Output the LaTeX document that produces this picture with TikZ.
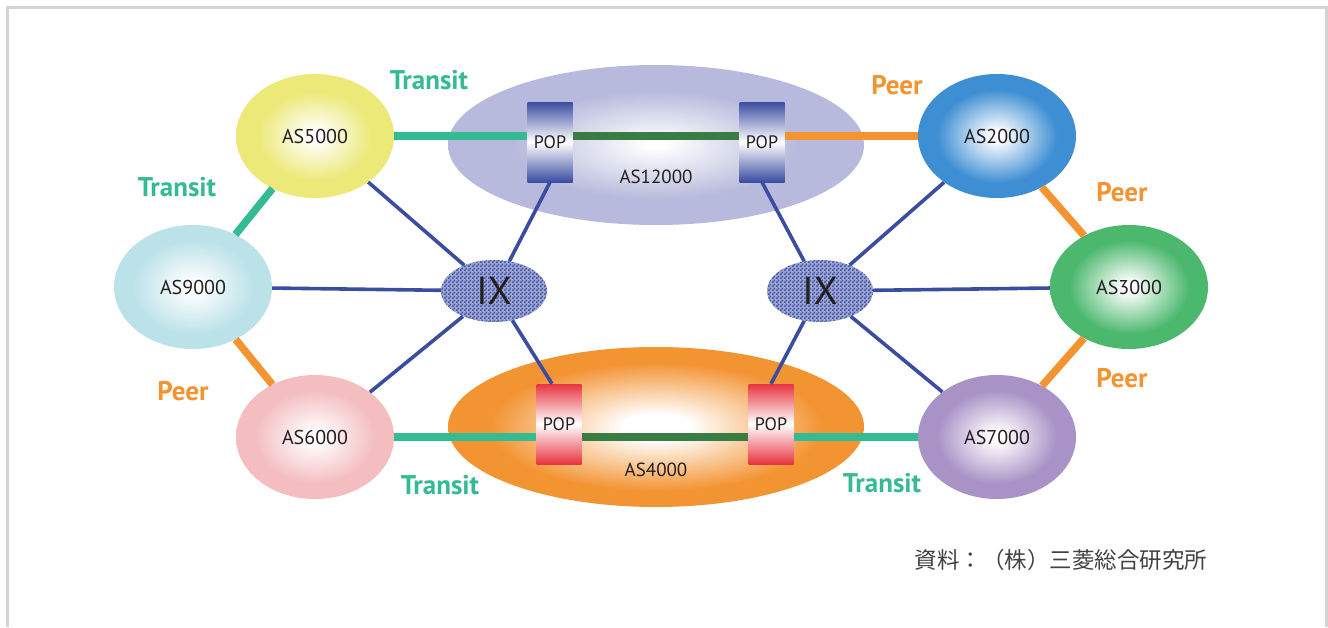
\documentclass[tikz,border=0pt]{standalone}
\usepackage{fontspec}
\setmainfont{PT Sans}
\newfontfamily\jpfont{Noto Sans CJK JP}
\usetikzlibrary{shapes.geometric,patterns}

% palette
\definecolor{transit}{HTML}{35BB93}
\definecolor{peer}{HTML}{F39431}
\definecolor{backbone}{HTML}{3A7D44}
\definecolor{ixline}{HTML}{3A4DA0}
\definecolor{ixfill}{HTML}{3F51A5}
\definecolor{txt}{HTML}{231F20}
\definecolor{frame}{HTML}{D4D4D4}
\definecolor{cfive}{HTML}{ECE978}
\definecolor{cnine}{HTML}{BCE2E9}
\definecolor{csix}{HTML}{F4BDC0}
\definecolor{ctwo}{HTML}{3D8ED3}
\definecolor{cthree}{HTML}{4BB86E}
\definecolor{cseven}{HTML}{A892C6}
\definecolor{ctwelve}{HTML}{B7BADC}
\definecolor{cfour}{HTML}{F39433}
\definecolor{popblue}{HTML}{3B4CA2}
\definecolor{popred}{HTML}{E8343F}

% soft radial glows, white at the centre (the node outline sits at 25bp)
\pgfdeclareradialshading{glowfive}{\pgfpoint{0bp}{0bp}}{color(0bp)=(white);color(2bp)=(white);color(18bp)=(cfive);color(50bp)=(cfive)}
\pgfdeclareradialshading{glownine}{\pgfpoint{0bp}{0bp}}{color(0bp)=(white);color(2bp)=(white);color(19bp)=(cnine);color(50bp)=(cnine)}
\pgfdeclareradialshading{glowsix}{\pgfpoint{0bp}{0bp}}{color(0bp)=(white);color(2bp)=(white);color(19bp)=(csix);color(50bp)=(csix)}
\pgfdeclareradialshading{glowtwo}{\pgfpoint{0bp}{0bp}}{color(0bp)=(white);color(2bp)=(white);color(19bp)=(ctwo);color(50bp)=(ctwo)}
\pgfdeclareradialshading{glowthree}{\pgfpoint{0bp}{0bp}}{color(0bp)=(white);color(2bp)=(white);color(19bp)=(cthree);color(50bp)=(cthree)}
\pgfdeclareradialshading{glowseven}{\pgfpoint{0bp}{0bp}}{color(0bp)=(white);color(2bp)=(white);color(19bp)=(cseven);color(50bp)=(cseven)}
\pgfdeclareradialshading{glowtwelve}{\pgfpoint{0bp}{0bp}}{color(0bp)=(white);color(1bp)=(white);color(17bp)=(ctwelve);color(50bp)=(ctwelve)}
\pgfdeclareradialshading{glowfour}{\pgfpoint{0bp}{0bp}}{color(0bp)=(white);color(4bp)=(white);color(20bp)=(cfour);color(50bp)=(cfour)}

% checks for the exchange points
\pgfdeclarepatternformonly{finechecks}{\pgfqpoint{0pt}{0pt}}{\pgfqpoint{4pt}{4pt}}{\pgfqpoint{4pt}{4pt}}{%
  \pgfpathrectangle{\pgfqpoint{0pt}{0pt}}{\pgfqpoint{2pt}{2pt}}%
  \pgfpathrectangle{\pgfqpoint{2pt}{2pt}}{\pgfqpoint{2pt}{2pt}}%
  \pgfusepath{fill}}

\tikzset{
  asnode/.style={ellipse, inner sep=0pt, minimum width=158pt, minimum height=124pt,
    text=txt, font=\fontsize{20}{24}\selectfont},
  bignode/.style={ellipse, inner sep=0pt, minimum width=416pt, minimum height=160pt},
  popbox/.style={rectangle, inner sep=0pt, minimum width=45pt, minimum height=80pt,
    top color=#1, bottom color=#1, middle color=white,
    text=txt, font=\fontsize{18}{22}\selectfont},
  ixnode/.style={ellipse, inner sep=0pt, minimum width=106pt, minimum height=62pt,
    preaction={fill=ixfill!50}, pattern=finechecks, pattern color=ixfill,
    text=txt, font=\fontsize{39}{40}\selectfont},
  transitlink/.style={draw=transit, line width=7.5pt},
  peerlink/.style={draw=peer, line width=7.5pt},
  trunk/.style={draw=backbone, line width=8pt},
  ixlink/.style={draw=ixline, line width=3.6pt},
  tlabel/.style={text=transit, font=\bfseries\fontsize{27}{30}\selectfont},
  plabel/.style={text=peer, font=\bfseries\fontsize{27}{30}\selectfont},
}

\begin{document}
\begin{tikzpicture}[x=1pt, y=-1pt]
\useasboundingbox (0,0) rectangle (1328,627);
\fill[white] (0,0) rectangle (1328,627);
\draw[frame, line width=3.5pt] (7.5,627) -- (7.5,7.5) -- (1326.5,7.5) -- (1326.5,627);

% carrier networks
\node[bignode, shading=glowtwelve] (as12) at (656,145) {};
\node[bignode, shading=glowfour] (as4) at (656,427) {};
\node[text=txt, font=\fontsize{19}{22}\selectfont] (as12lbl) at (656,177) {AS12000};
\node[text=txt, font=\fontsize{19}{22}\selectfont] (as4lbl) at (656,470) {AS4000};

% points of presence
\node[popbox=popblue] (popTL) at (550,142) {POP};
\node[popbox=popblue] (popTR) at (762,142) {POP};
\node[popbox=popred] (popBL) at (559,424) {POP};
\node[popbox=popred] (popBR) at (771,424) {POP};

% exchanges
\node[ixnode] (ixL) at (494,291) {IX};
\node[ixnode] (ixR) at (820,291) {IX};

% autonomous systems
\node[asnode, shading=glowfive] (as5) at (315,136) {AS5000};
\node[asnode, shading=glownine] (as9) at (193,287) {AS9000};
\node[asnode, shading=glowsix] (as6) at (315,437) {AS6000};
\node[asnode, shading=glowtwo] (as2) at (997,136) {AS2000};
\node[asnode, shading=glowthree] (as3) at (1129,287) {AS3000};
\node[asnode, shading=glowseven] (as7) at (997,437) {AS7000};

% backbone trunks inside the carriers
\draw[trunk] (popTL.east |- as5) -- (popTR.west |- as5);
\draw[trunk] (popBL.east |- as6) -- (popBR.west |- as6);

% transit and peering links
\draw[transitlink] (as5) -- (as5 -| popTL.west);
\draw[peerlink] (popTR.east |- as2) -- (as2);
\draw[transitlink] (as6) -- (as6 -| popBL.west);
\draw[transitlink] (popBR.east |- as7) -- (as7);
\draw[transitlink] (as5) -- (as9);
\draw[peerlink] (as9) -- (as6);
\draw[peerlink] (as2) -- (as3);
\draw[peerlink] (as3) -- (as7);

% exchange links
\draw[ixlink] (as5) -- (ixL);
\draw[ixlink] (as9) -- (ixL);
\draw[ixlink] (as6) -- (ixL);
\draw[ixlink] (popTL.south) -- (ixL);
\draw[ixlink] (ixL) -- ([xshift=-7pt]popBL.north);
\draw[ixlink] (ixR) -- (as2);
\draw[ixlink] (ixR) -- (as3);
\draw[ixlink] (ixR) -- (as7);
\draw[ixlink] (popTR.south) -- (ixR);
\draw[ixlink] (ixR) -- (popBR.north);

% link labels
\node[tlabel] (lt1) at (429,80) {Transit};
\node[plabel] (lp1) at (897,85) {Peer};
\node[tlabel] (lt2) at (177,187) {Transit};
\node[plabel] (lp2) at (183,391) {Peer};
\node[plabel] (lp3) at (1122,192) {Peer};
\node[plabel] (lp4) at (1122,378) {Peer};
\node[tlabel] (lt3) at (440,485) {Transit};
\node[tlabel] (lt4) at (882,483) {Transit};

% source
\node[text=txt!85, font=\jpfont\fontsize{22.5}{26}\selectfont] (src) at (1061,560) {資料：（株）三菱総合研究所};
\end{tikzpicture}
\end{document}
